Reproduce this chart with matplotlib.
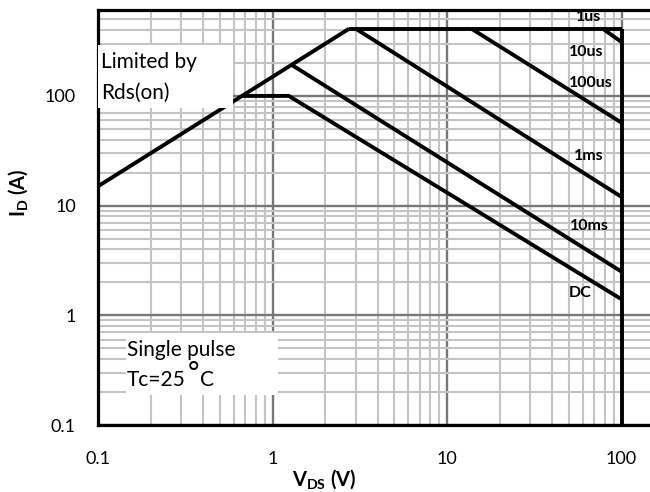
import matplotlib
matplotlib.use("Agg")
import matplotlib.pyplot as plt
from matplotlib.patches import Rectangle

plt.rcParams['font.family'] = ['Lato', 'DejaVu Sans']
plt.rcParams['mathtext.fontset'] = 'custom'
plt.rcParams['mathtext.rm'] = 'Lato'
plt.rcParams['mathtext.it'] = 'Lato'
plt.rcParams['mathtext.bf'] = 'Lato:bold'
plt.rcParams['mathtext.fallback'] = 'stix'

# ---- data ----
rds_v = [0.1, 2.75]
rds_i = [15, 410]
top_v = [2.75, 100]
top_i = [410, 410]
vert_v = [100, 100]
vert_i = [410, 0.1]
us1_v = [78, 100]
us1_i = [410, 310]
us100_v = [13.8, 100]
us100_i = [410, 57]
ms1_v = [3.0, 100]
ms1_i = [410, 12]
ms10_v = [1.3, 100]
ms10_i = [190, 2.5]
dc_v = [0.67, 1.24, 100]
dc_i = [100, 100, 1.4]

curve_labels = ["1us", "10us", "100us", "1ms", "10ms", "DC"]
label_v = [64.7, 63, 66.5, 64.7, 65.6, 58.2]
label_i = [520, 250, 130, 28.5, 6.5, 1.6]

xticks = [0.1, 1, 10, 100]
xtick_labels = ["0.1", "1", "10", "100"]
yticks = [0.1, 1, 10, 100]
ytick_labels = ["0.1", "1", "10", "100"]

fig = plt.figure(figsize=(6.5, 4.92), dpi=100)
ax = fig.add_axes([98/650, 1-425/492, 552/650, 415/492])
ax.set_xscale('log')
ax.set_yscale('log')
ax.set_xlim(0.1, 145.6)
ax.set_ylim(0.1, 607)

ax.grid(True, which='minor', color='#c4c4c4', lw=1.5, zorder=0)
ax.grid(True, which='major', color='#777777', lw=1.7, zorder=0)
ax.set_axisbelow(True)

lw = 2.8
for v, i in [(rds_v, rds_i), (top_v, top_i), (vert_v, vert_i), (us1_v, us1_i),
             (us100_v, us100_i), (ms1_v, ms1_i), (ms10_v, ms10_i), (dc_v, dc_i)]:
    ax.plot(v, i, color='black', lw=lw, solid_capstyle='butt', zorder=3)

for lab, v, i in zip(curve_labels, label_v, label_i):
    ax.text(v, i, lab, fontsize=11.5, fontweight='bold', va='center', ha='center', zorder=4)

# annotation boxes
ax.add_patch(Rectangle((0.0, 0.764), 0.2446, 0.152, transform=ax.transAxes,
                       facecolor='white', edgecolor='none', zorder=5))
ax.text(0.005, 0.874, "Limited by", transform=ax.transAxes, fontsize=15, va='center', ha='left', zorder=6)
ax.text(0.005, 0.801, "Rds(on)", transform=ax.transAxes, fontsize=15, va='center', ha='left', zorder=6)

ax.add_patch(Rectangle((0.0507, 0.0723), 0.2753, 0.1494, transform=ax.transAxes,
                       facecolor='white', edgecolor='none', zorder=5))
ax.text(0.052, 0.181, "Single pulse", transform=ax.transAxes, fontsize=15, va='center', ha='left', zorder=6)
t1 = ax.text(0.052, 0.109, "Tc=25", transform=ax.transAxes, fontsize=15, va='center', ha='left', zorder=6)
ax.annotate("°", xy=(1, 0.5), xycoords=t1, xytext=(1.5, 4), textcoords='offset points',
            fontsize=20, va='center', ha='left', zorder=6)
ax.annotate("C", xy=(1, 0.5), xycoords=t1, xytext=(10.5, 0), textcoords='offset points',
            fontsize=15, va='center', ha='left', zorder=6)

ax.set_xticks(xticks)
ax.set_xticklabels(xtick_labels)
ax.set_yticks(yticks)
ax.set_yticklabels(ytick_labels)
ax.tick_params(which='both', length=0)
ax.tick_params(axis='x', pad=19, labelsize=13)
ax.tick_params(axis='y', pad=16, labelsize=13)

for s in ['left', 'bottom', 'top']:
    ax.spines[s].set_linewidth(2.3)
    ax.spines[s].set_color('black')
ax.spines['right'].set_visible(False)

fig.text(324/650, 1-479/492, r"$\mathbf{V}_{\mathbf{DS}}$ (V)", fontsize=14.5, fontweight='bold',
         ha='center', va='center')
fig.text(18/650, 1-193/492, r"$\mathbf{I}_{\mathbf{D}}$ (A)", fontsize=14.5, fontweight='bold',
         ha='center', va='center', rotation=90)

fig.savefig("out.png", dpi=100)
